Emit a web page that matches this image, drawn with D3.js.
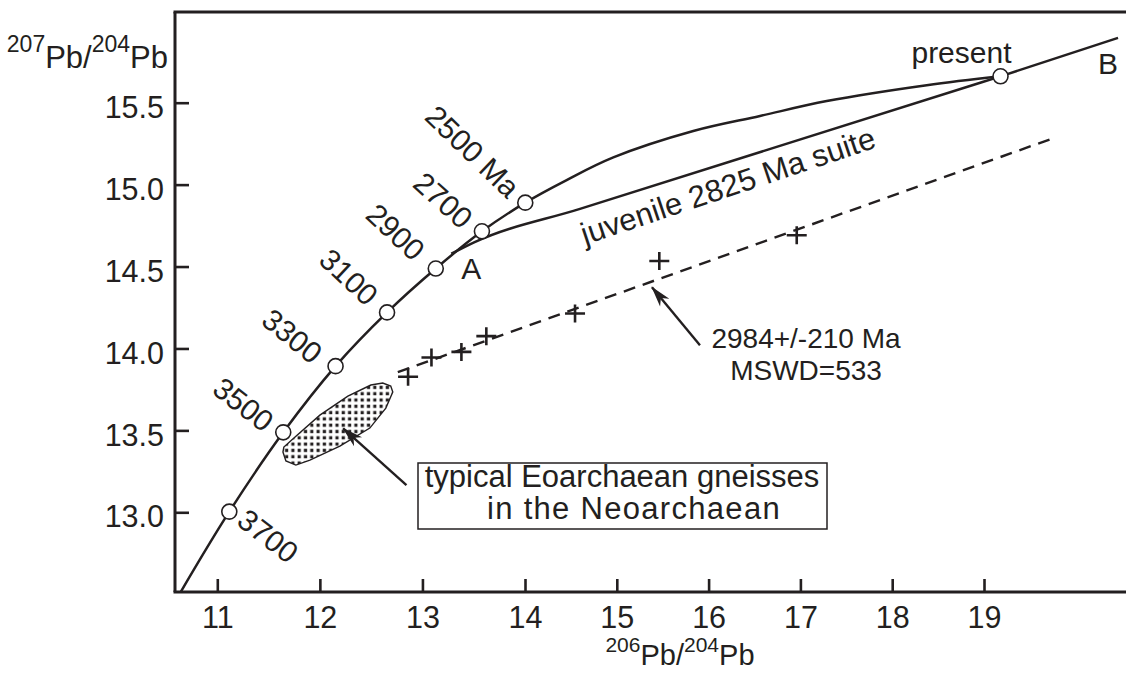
<!DOCTYPE html>
<html>
<head>
<meta charset="utf-8">
<script src="https://cdnjs.cloudflare.com/ajax/libs/d3/7.8.5/d3.min.js"></script>
<style>
body { margin: 0; background: #fff; }
text { font-family: "Liberation Sans", Arial, Helvetica, sans-serif; fill: #231f20; }
</style>
</head>
<body>
<div id="chart"></div>
<script>

// axis ticks
let xTicks = [11, 12, 13, 14, 15, 16, 17, 18, 19];
let yTicks = [13.0, 13.5, 14.0, 14.5, 15.0, 15.5];

// Pb growth curve (206Pb/204Pb, 207Pb/204Pb)
let curve206 = [10.644, 11.117, 11.643, 12.153, 12.655, 13.130, 13.580, 14.003, 14.454, 14.962, 15.833, 16.560, 17.287, 18.376, 19.18];
let curve207 = [12.515, 13.004, 13.488, 13.892, 14.220, 14.488, 14.715, 14.890, 15.028, 15.166, 15.327, 15.419, 15.510, 15.607, 15.661];

// straight part of the curve, present -> B
let tail206 = [19.18, 20.46];
let tail207 = [15.661, 15.896];

// age ticks on the curve
let ageLabels = ["3700", "3500", "3300", "3100", "2900", "2700", "2500 Ma", "present"];
let age206 = [11.117, 11.643, 12.153, 12.655, 13.130, 13.580, 14.003, 19.18];
let age207 = [13.004, 13.488, 13.892, 14.220, 14.488, 14.715, 14.890, 15.661];

// juvenile 2825 Ma suite line (A -> present)
let juv206 = [13.282, 13.509, 14.599, 19.18];
let juv207 = [14.578, 14.649, 14.852, 15.661];

// measured samples (crosses)
let sample206 = [12.860, 13.088, 13.380, 13.623, 14.545, 15.463, 16.960];
let sample207 = [13.827, 13.945, 13.979, 14.075, 14.213, 14.534, 14.691];

// regression line ends
let reg206 = [12.760, 19.737];
let reg207 = [13.855, 15.280];

// field of typical Eoarchaean gneisses
let field206 = [11.640, 11.669, 11.766, 11.903, 12.195, 12.487, 12.643, 12.711, 12.691, 12.613, 12.497, 12.273, 12.000, 11.747, 11.649];
let field207 = [13.368, 13.313, 13.288, 13.319, 13.404, 13.514, 13.636, 13.734, 13.770, 13.789, 13.777, 13.709, 13.593, 13.453, 13.398];

let ink = "#231f20";
let width = 1126, height = 676;
let plotLeft = 175, plotTop = 12, plotRight = 1126, plotBottom = 592;

let svg = d3.select("#chart")
.append("svg")
.attr("width", width)
.attr("height", height);

// the original axis is not evenly spaced above 14
let x = d3.scaleLinear().domain([11, 14, 19]).range([217.3, 525, 984]);
let y = d3.scaleLinear().domain([13, 15.5]).range([512.3, 102.7]);

let defs = svg.append("defs");

let pat = defs.append("pattern")
.attr("id", "dots")
.attr("patternUnits", "userSpaceOnUse")
.attr("width", 6.3)
.attr("height", 6.3);
pat.append("rect").attr("width", 6.3).attr("height", 6.3).attr("fill", "#fff");
pat.append("rect").attr("x", 1.5).attr("y", 1.5).attr("width", 3.2).attr("height", 3.2).attr("fill", ink);

defs.append("marker")
.attr("id", "arrowhead")
.attr("markerUnits", "userSpaceOnUse")
.attr("viewBox", "-22 -7 24 14")
.attr("refX", 0)
.attr("refY", 0)
.attr("markerWidth", 24)
.attr("markerHeight", 14)
.attr("orient", "auto")
.append("path")
.attr("d", "M1,0 L-20,-6 L-14,0 L-20,6 Z")
.attr("fill", ink);

//////AXES
let xAxis = svg.append("g")
.attr("transform", "translate(0," + plotBottom + ")")
.call(d3.axisBottom(x).tickValues(xTicks).tickSizeInner(-13).tickSizeOuter(0).tickPadding(14));

let yAxis = svg.append("g")
.attr("transform", "translate(" + plotLeft + ",0)")
.call(d3.axisLeft(y).tickValues(yTicks).tickFormat(d3.format(".1f")).tickSizeInner(-14).tickSizeOuter(0).tickPadding(11));

svg.selectAll(".domain").remove();
svg.selectAll(".tick line").attr("stroke", ink).attr("stroke-width", 2.6);
svg.selectAll(".tick text")
.attr("fill", ink)
.style("font-family", "'Liberation Sans', Arial, sans-serif")
.style("font-size", "30.5px");
yAxis.selectAll(".tick text").attr("dy", "0.48em");

// frame: left, bottom, top
let frame = [
  [plotLeft, plotTop, plotLeft, plotBottom],
  [plotLeft - 1.5, plotBottom, plotRight, plotBottom],
  [plotLeft - 1.5, plotTop, plotRight, plotTop]
];
svg.selectAll(".frame").data(frame).enter()
.append("line")
.attr("class", "frame")
.attr("x1", d => d[0]).attr("y1", d => d[1])
.attr("x2", d => d[2]).attr("y2", d => d[3])
.attr("stroke", ink)
.attr("stroke-width", 3);

// axis titles
let yt = svg.append("text").attr("x", 168).attr("y", 68).attr("text-anchor", "end").style("font-size", "31px");
yt.append("tspan").text("207").style("font-size", "23px").attr("dy", -16);
yt.append("tspan").text("Pb/").attr("dy", 16);
yt.append("tspan").text("204").style("font-size", "23px").attr("dy", -16);
yt.append("tspan").text("Pb").attr("dy", 16);

let xt = svg.append("text").attr("x", 680).attr("y", 665).attr("text-anchor", "middle").style("font-size", "29px");
xt.append("tspan").text("206").style("font-size", "21px").attr("dy", -13);
xt.append("tspan").text("Pb/").attr("dy", 13);
xt.append("tspan").text("204").style("font-size", "21px").attr("dy", -13);
xt.append("tspan").text("Pb").attr("dy", 13);

//////FIELD
let field = field206.map((d, i) => [d, field207[i]]);
svg.append("path")
.datum(field)
.attr("d", d3.line().x(d => x(d[0])).y(d => y(d[1])).curve(d3.curveLinearClosed))
.attr("fill", "url(#dots)")
.attr("stroke", ink)
.attr("stroke-width", 1.4);

//////LINES
svg.append("path")
.datum(curve206.map((d, i) => [d, curve207[i]]))
.attr("d", d3.line().x(d => x(d[0])).y(d => y(d[1])).curve(d3.curveCatmullRom.alpha(0.5)))
.attr("fill", "none")
.attr("stroke", ink)
.attr("stroke-width", 2.5);

svg.append("path")
.datum(tail206.map((d, i) => [d, tail207[i]]))
.attr("d", d3.line().x(d => x(d[0])).y(d => y(d[1])))
.attr("fill", "none")
.attr("stroke", ink)
.attr("stroke-width", 2.5);

svg.append("path")
.datum(juv206.map((d, i) => [d, juv207[i]]))
.attr("d", d3.line().x(d => x(d[0])).y(d => y(d[1])).curve(d3.curveMonotoneX))
.attr("fill", "none")
.attr("stroke", ink)
.attr("stroke-width", 2.5);

svg.append("path")
.datum(reg206.map((d, i) => [d, reg207[i]]))
.attr("d", d3.line().x(d => x(d[0])).y(d => y(d[1])))
.attr("fill", "none")
.attr("stroke", ink)
.attr("stroke-width", 2.4)
.attr("stroke-dasharray", "12,8");

//////CROSSES
let samples = sample206.map((d, i) => ({px: d, py: sample207[i]}));
svg.selectAll(".cross").data(samples).enter()
.append("path")
.attr("class", "cross")
.attr("d", d => {
  let cx = x(d.px), cy = y(d.py);
  return "M" + (cx - 10) + "," + cy + "H" + (cx + 10) + "M" + cx + "," + (cy - 9) + "V" + (cy + 9);
})
.attr("stroke", ink)
.attr("stroke-width", 2.6)
.attr("fill", "none");

//////AGE POINTS
// label placement next to each circle: offset in px, angle, anchor
let ageLayout = [
  {dx: 6, dy: 12, rot: 38, anchor: "start"},
  {dx: -20, dy: 1, rot: 38, anchor: "end"},
  {dx: -24, dy: -1, rot: 39, anchor: "end"},
  {dx: -21, dy: -5, rot: 43, anchor: "end"},
  {dx: -23, dy: -6, rot: 43, anchor: "end"},
  {dx: -21, dy: -1, rot: 42, anchor: "end"},
  {dx: -18, dy: -3, rot: 44, anchor: "end"},
  {dx: 11, dy: -13, rot: 0, anchor: "end"}
];
let ages = ageLabels.map((d, i) => ({label: d, px: age206[i], py: age207[i], lay: ageLayout[i]}));

svg.selectAll(".agelabel").data(ages).enter()
.append("text")
.attr("class", "agelabel")
.attr("text-anchor", d => d.lay.anchor)
.attr("transform", d => "translate(" + (x(d.px) + d.lay.dx) + "," + (y(d.py) + d.lay.dy) + ") rotate(" + d.lay.rot + ")")
.style("font-size", "30px")
.text(d => d.label);

svg.selectAll(".agecircle").data(ages).enter()
.append("circle")
.attr("class", "agecircle")
.attr("cx", d => x(d.px))
.attr("cy", d => y(d.py))
.attr("r", 7.5)
.attr("fill", "#fff")
.attr("stroke", ink)
.attr("stroke-width", 1.6);

//////ANNOTATIONS
svg.append("text").attr("x", x(13.282) + 10).attr("y", y(14.579) + 25).style("font-size", "30px").text("A");
svg.append("text").attr("x", x(20.46) - 20).attr("y", y(15.896) + 36).style("font-size", "30px").text("B");

svg.append("text")
.attr("transform", "translate(" + 585 + "," + 245 + ") rotate(-18.5)")
.style("font-size", "31px")
.text("juvenile 2825 Ma suite");

// regression arrow + label
svg.append("line")
.attr("x1", x(15.906)).attr("y1", y(14.020))
.attr("x2", x(15.383)).attr("y2", y(14.374))
.attr("stroke", ink)
.attr("stroke-width", 2.4)
.attr("marker-end", "url(#arrowhead)");

let regText = svg.append("text").attr("text-anchor", "middle").style("font-size", "28px");
regText.append("tspan").attr("x", 806).attr("y", 348).text("2984+/-210 Ma");
regText.append("tspan").attr("x", 806).attr("y", 380).text("MSWD=533");

// field arrow + box
svg.append("line")
.attr("x1", x(12.844)).attr("y1", y(13.166))
.attr("x2", x(12.227)).attr("y2", y(13.512))
.attr("stroke", ink)
.attr("stroke-width", 2.4)
.attr("marker-end", "url(#arrowhead)");

svg.append("rect")
.attr("x", 418).attr("y", 463)
.attr("width", 409).attr("height", 66)
.attr("fill", "#fff")
.attr("stroke", ink)
.attr("stroke-width", 1.5);

let boxText = svg.append("text").attr("text-anchor", "middle").style("font-size", "31px");
boxText.append("tspan").attr("x", 622).attr("y", 487).text("typical Eoarchaean gneisses");
boxText.append("tspan").attr("x", 634).attr("y", 519).style("letter-spacing", "1.3px").text("in the Neoarchaean");

</script>
</body>
</html>
